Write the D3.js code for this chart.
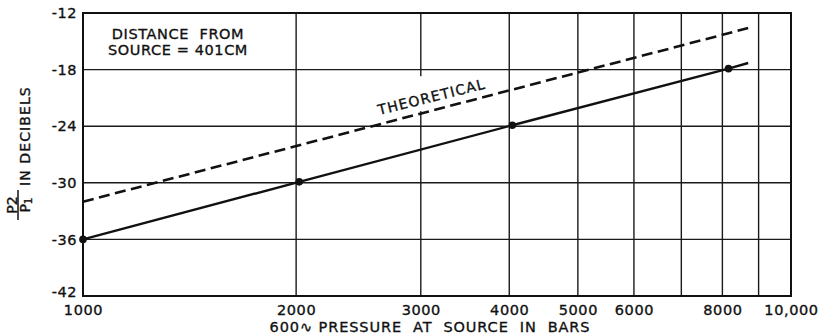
<!DOCTYPE html>
<html><head><meta charset="utf-8">
<script src="https://cdn.jsdelivr.net/npm/d3@7"></script>
<style>
body{margin:0;background:#fff}
text{font-family:"DejaVu Sans",sans-serif;fill:#111;stroke:#111;stroke-width:0.35px}
</style>
</head><body>
<svg id="c" width="828" height="336"></svg>
<script>
// ---- data ----
const xTicks = [1000,2000,3000,4000,5000,6000,7000,8000,9000,10000];
const xTickLabels = ["1000","2000","3000","4000","5000","6000","","8000","","10,000"];
const yTicks = [-42,-36,-30,-24,-18,-12];
const yTickLabels = ["-42","-36","-30","-24","-18","-12"];
const measuredX = [1000,2020,4040,8160];
const measuredY = [-36,-29.9,-23.9,-17.9];
const measuredLineX = [1000,2020,4040,8160,8700];
const measuredLineY = [-36,-29.9,-23.9,-17.9,-17.3];
const theoreticalX = [1000,8700];
const theoreticalY = [-32,-13.6];
const noteLines = ["DISTANCE  FROM","SOURCE = 401CM"];
const theoreticalLabel = "THEORETICAL";
const xTitle = "600\u223F PRESSURE  AT  SOURCE  IN  BARS";

// ---- layout ----
const L=83, R=791, T=13, B=296;
const svg = d3.select("#c");
const x = d3.scaleLog().domain([1000,10000]).range([L,R]);
const y = d3.scaleLinear().domain([-42,-12]).range([B,T]);

// gridlines
svg.append("g").selectAll("line").data(xTicks).join("line")
  .attr("x1",d=>x(d)).attr("x2",d=>x(d)).attr("y1",T).attr("y2",B)
  .attr("stroke","#1a1a1a").attr("stroke-width",1.4);
svg.append("g").selectAll("line").data(yTicks).join("line")
  .attr("x1",L).attr("x2",R).attr("y1",d=>y(d)).attr("y2",d=>y(d))
  .attr("stroke","#1a1a1a").attr("stroke-width",1.4);
// small break in 3000 gridline near label
svg.append("rect").attr("x",x(3000)-2).attr("width",4)
  .attr("y",y(-18.7)).attr("height",y(-22.4)-y(-18.7)).attr("fill","#fff");

// frame
svg.append("rect").attr("x",L).attr("y",T).attr("width",R-L).attr("height",B-T)
  .attr("fill","none").attr("stroke","#111").attr("stroke-width",2);

// axes via d3 (tick labels only)
const xAxis = svg.append("g").attr("transform",`translate(0,${B})`)
  .call(d3.axisBottom(x).tickValues(xTicks).tickFormat((d,i)=>xTickLabels[i]).tickSize(0).tickPadding(0));
xAxis.select(".domain").remove();
xAxis.selectAll("text").attr("dy",null).attr("y",18.5)
  .style("font-size","14.5px").style("letter-spacing","0.6px").attr("fill","#111");
const yAxis = svg.append("g").attr("transform",`translate(${L},0)`)
  .call(d3.axisLeft(y).tickValues(yTicks).tickFormat((d,i)=>yTickLabels[i]).tickSize(0).tickPadding(6));
yAxis.select(".domain").remove();
yAxis.selectAll("text").style("font-size","14.5px").style("letter-spacing","0.5px").attr("fill","#111")
  .attr("dy",(d)=> d===-42 ? "0.05em" : "0.32em");

// lines
const pts = (xs,ys)=>xs.map((v,i)=>[v,ys[i]]);
const line = d3.line().x(d=>x(d[0])).y(d=>y(d[1]));
svg.append("path").datum(pts(theoreticalX,theoreticalY)).attr("d",line)
  .attr("fill","none").attr("stroke","#111").attr("stroke-width",2.6).attr("stroke-dasharray","11,5.5");
svg.append("path").datum(pts(measuredLineX,measuredLineY)).attr("d",line)
  .attr("fill","none").attr("stroke","#111").attr("stroke-width",2.4);
svg.append("g").selectAll("circle").data(pts(measuredX,measuredY)).join("circle")
  .attr("cx",d=>x(d[0])).attr("cy",d=>y(d[1])).attr("r",3.8).attr("fill","#111");

// theoretical label
svg.append("text").attr("transform",`translate(${x(3120)},${y(-21.4)}) rotate(-14)`)
  .attr("text-anchor","middle").style("font-size","14px").style("letter-spacing","1.2px")
  .text(theoreticalLabel);

// note
svg.append("g").selectAll("text").data(noteLines).join("text")
  .attr("x",178).attr("y",(d,i)=>38.5+i*16.5).attr("text-anchor","middle")
  .style("font-size","14.5px").style("letter-spacing","0.6px").style("white-space","pre")
  .text(d=>d);

// x title
svg.append("text").attr("x",430).attr("y",331.5).attr("text-anchor","middle")
  .style("font-size","14.5px").style("letter-spacing","0.9px").style("white-space","pre")
  .text(xTitle);

// y title
const yt = svg.append("g").attr("transform","translate(30,222) rotate(-90)");
yt.append("text").attr("x",36).attr("y",0).style("font-size","14px").style("letter-spacing","1.1px").text("IN DECIBELS");
yt.append("text").attr("x",17).attr("y",-13.5).attr("text-anchor","middle").style("font-size","14px").text("P2");
yt.append("line").attr("x1",2).attr("x2",32).attr("y1",-12).attr("y2",-12).attr("stroke","#111").attr("stroke-width",1.5);
const p1 = yt.append("text").attr("x",17).attr("y",0).attr("text-anchor","middle").style("font-size","14px");
p1.append("tspan").text("P");
p1.append("tspan").attr("dy",1.5).style("font-size","10.5px").text("1");
</script>
</body></html>
